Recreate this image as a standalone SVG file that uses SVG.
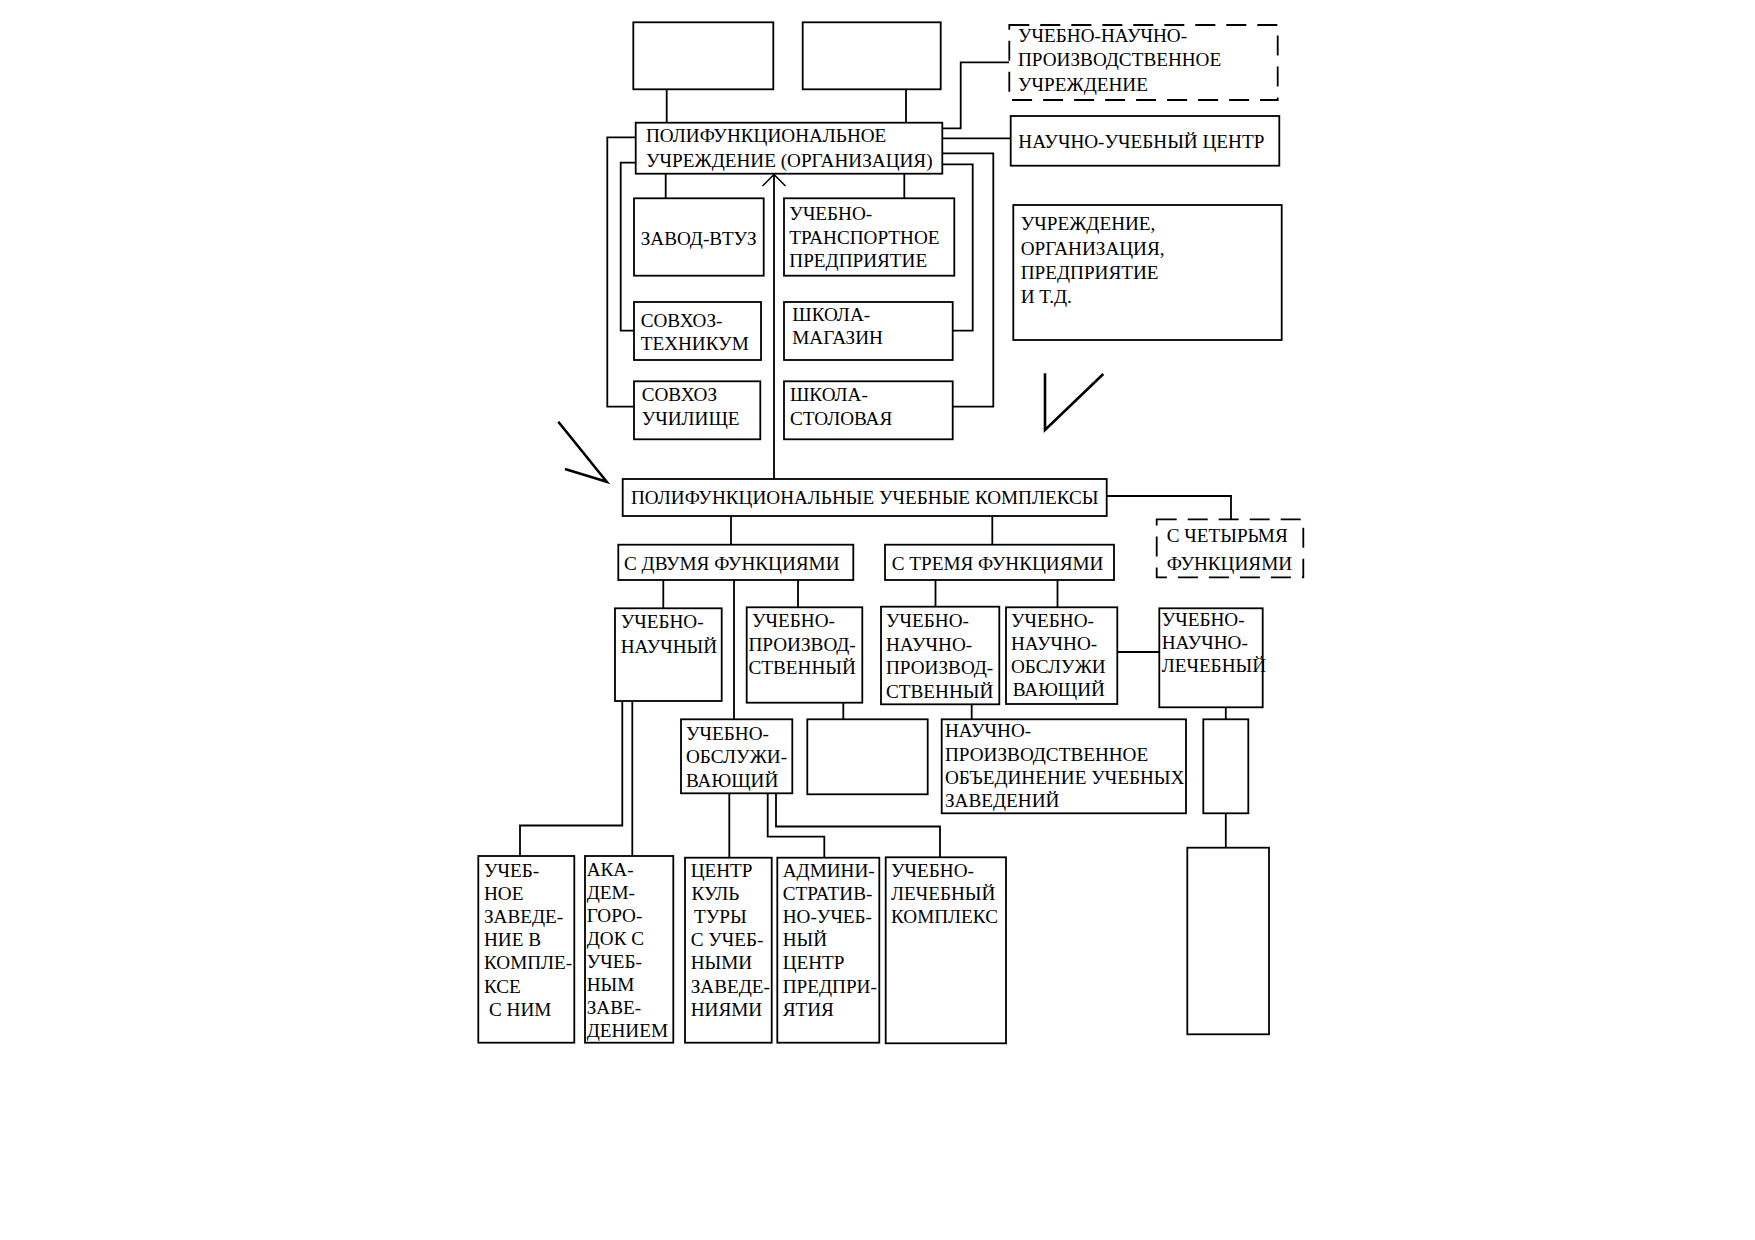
<svg xmlns="http://www.w3.org/2000/svg" width="1755" height="1240" viewBox="0 0 1755 1240">
<style>
.box{fill:#fff;stroke:#000;stroke-width:1.8}
.dash{stroke-dasharray:20 11}
.c{fill:none;stroke:#000;stroke-width:1.8}
.mk{fill:none;stroke:#000;stroke-width:2.6;stroke-linejoin:miter}
.t{font-family:"Liberation Serif","Times New Roman",serif;font-size:19.2px;fill:#000}
</style>
<defs>
<marker id="arr" viewBox="0 0 24 14" refX="12" refY="1" markerWidth="24" markerHeight="14" markerUnits="userSpaceOnUse" orient="0">
<path d="M0.5,12.5 L12,1 L23.5,12.5" fill="none" stroke="#000" stroke-width="1.5"/>
</marker>
</defs>
<rect width="1755" height="1240" fill="#fff"/>
<g id="connectors">
<path class="c" d="M666.7,89.3V122.7"/>
<path class="c" d="M906,89.3V122.7"/>
<path class="c" d="M942.3,128.3H960.7V62.3H1009.3"/>
<path class="c" d="M942.3,138.3H1010.7"/>
<path class="c" d="M942.3,153.3H993.3V406.7H952.7"/>
<path class="c" d="M942.3,164.3H972.7V330.7H952.7"/>
<path class="c" d="M635.7,137.3H607.3V406.7H634"/>
<path class="c" d="M635.7,162.7H620.7V330.7H634"/>
<path class="c" d="M665.7,173.7V198.3"/>
<path class="c" d="M904.3,173.7V198.3"/>
<path class="c" d="M774,479V174.5" marker-end="url(#arr)"/>
<path class="c" d="M731,516V544.7"/>
<path class="c" d="M992.3,516V544.7"/>
<path class="c" d="M1106.7,496H1231V519.3"/>
<path class="c" d="M663.3,580V608.3"/>
<path class="c" d="M734,580V719.3"/>
<path class="c" d="M798,580V607.3"/>
<path class="c" d="M935.5,580V606.7"/>
<path class="c" d="M1057.5,580V607.3"/>
<path class="c" d="M1117.3,652H1159.3"/>
<path class="c" d="M1225.8,707.3V719.3"/>
<path class="c" d="M1225.8,813.3V847.7"/>
<path class="c" d="M843.3,702.7V719.3"/>
<path class="c" d="M971.7,704.3V719.3"/>
<path class="c" d="M622.3,701V825.5H520V856"/>
<path class="c" d="M632.3,701V856"/>
<path class="c" d="M729.3,793.3V857.7"/>
<path class="c" d="M767.7,793.3V836.7H824.3V857.7"/>
<path class="c" d="M776,793.3V826.5H940V857.3"/>
</g>
<g id="marks">
<path class="mk" d="M558.3,421.7L606.7,481.7L565,469"/>
<path class="mk" d="M1045,373.3V430L1103.3,374"/>
</g>
<g id="top-empty-1"><rect class="box" x="633.3" y="22.3" width="140" height="67"/></g>
<g id="top-empty-2"><rect class="box" x="802.7" y="22.3" width="138" height="67"/></g>
<g id="polyfunctional-institution">
<rect class="box" x="635.7" y="122.7" width="306.6" height="51"/>
<text class="t" x="646" y="141.7">ПОЛИФУНКЦИОНАЛЬНОЕ</text>
<text class="t" x="646" y="166.7">УЧРЕЖДЕНИЕ (ОРГАНИЗАЦИЯ)</text>
</g>
<g id="edu-sci-prod-institution">
<rect class="box dash" x="1009.3" y="25" width="268.4" height="75"/>
<text class="t" x="1018" y="41.7">УЧЕБНО-НАУЧНО-</text>
<text class="t" x="1018" y="66.2">ПРОИЗВОДСТВЕННОЕ</text>
<text class="t" x="1018" y="90.7">УЧРЕЖДЕНИЕ</text>
</g>
<g id="sci-edu-center">
<rect class="box" x="1010.7" y="116" width="268.6" height="49.7"/>
<text class="t" x="1018.3" y="148.3">НАУЧНО-УЧЕБНЫЙ ЦЕНТР</text>
</g>
<g id="legend-box">
<rect class="box" x="1013.3" y="205" width="268.4" height="135"/>
<text class="t" x="1020.7" y="230">УЧРЕЖДЕНИЕ,</text>
<text class="t" x="1020.7" y="254.5">ОРГАНИЗАЦИЯ,</text>
<text class="t" x="1020.7" y="279">ПРЕДПРИЯТИЕ</text>
<text class="t" x="1020.7" y="303.3">И Т.Д.</text>
</g>
<g id="zavod-vtuz">
<rect class="box" x="634" y="198.3" width="129.7" height="77.4"/>
<text class="t" x="640.7" y="245">ЗАВОД-ВТУЗ</text>
</g>
<g id="edu-transport">
<rect class="box" x="784" y="198.3" width="170.3" height="77.4"/>
<text class="t" x="789.3" y="220">УЧЕБНО-</text>
<text class="t" x="789.3" y="243.5">ТРАНСПОРТНОЕ</text>
<text class="t" x="789.3" y="267">ПРЕДПРИЯТИЕ</text>
</g>
<g id="sovkhoz-tekhnikum">
<rect class="box" x="634" y="302" width="127" height="58"/>
<text class="t" x="640.7" y="326.6">СОВХОЗ-</text>
<text class="t" x="640.7" y="350.4">ТЕХНИКУМ</text>
</g>
<g id="shkola-magazin">
<rect class="box" x="784" y="302" width="168.7" height="58"/>
<text class="t" x="792.3" y="321">ШКОЛА-</text>
<text class="t" x="792.3" y="343.5">МАГАЗИН</text>
</g>
<g id="sovkhoz-uchilishche">
<rect class="box" x="634" y="381.3" width="126.3" height="58"/>
<text class="t" x="641.7" y="401">СОВХОЗ</text>
<text class="t" x="641.7" y="424.5">УЧИЛИЩЕ</text>
</g>
<g id="shkola-stolovaya">
<rect class="box" x="784" y="381.3" width="168.7" height="58"/>
<text class="t" x="790" y="401">ШКОЛА-</text>
<text class="t" x="790" y="424.5">СТОЛОВАЯ</text>
</g>
<g id="polyfunctional-complexes">
<rect class="box" x="622.7" y="479" width="484" height="37"/>
<text class="t" x="631" y="504.3">ПОЛИФУНКЦИОНАЛЬНЫЕ УЧЕБНЫЕ КОМПЛЕКСЫ</text>
</g>
<g id="two-functions">
<rect class="box" x="618.3" y="544.7" width="235" height="35.3"/>
<text class="t" x="624" y="570">С ДВУМЯ ФУНКЦИЯМИ</text>
</g>
<g id="three-functions">
<rect class="box" x="885" y="544.7" width="229" height="35.3"/>
<text class="t" x="891.7" y="570">С ТРЕМЯ ФУНКЦИЯМИ</text>
</g>
<g id="four-functions">
<rect class="box dash" x="1156.7" y="519.3" width="146.6" height="58"/>
<text class="t" x="1166.7" y="541.5">С ЧЕТЫРЬМЯ</text>
<text class="t" x="1166.7" y="570">ФУНКЦИЯМИ</text>
</g>
<g id="edu-sci">
<rect class="box" x="615" y="608.3" width="106.7" height="92.7"/>
<text class="t" x="620.7" y="628">УЧЕБНО-</text>
<text class="t" x="620.7" y="653">НАУЧНЫЙ</text>
</g>
<g id="edu-prod">
<rect class="box" x="746.7" y="607.3" width="115.6" height="95.4"/>
<text class="t" x="752" y="627">УЧЕБНО-</text>
<text class="t" x="748.5" y="650.5">ПРОИЗВОД-</text>
<text class="t" x="748.5" y="674">СТВЕННЫЙ</text>
</g>
<g id="edu-sci-prod">
<rect class="box" x="881" y="606.7" width="118.3" height="97.6"/>
<text class="t" x="886" y="627">УЧЕБНО-</text>
<text class="t" x="886" y="650.5">НАУЧНО-</text>
<text class="t" x="886" y="674">ПРОИЗВОД-</text>
<text class="t" x="886" y="697.5">СТВЕННЫЙ</text>
</g>
<g id="edu-sci-service">
<rect class="box" x="1006" y="607.3" width="111.3" height="96.7"/>
<text class="t" x="1011" y="627">УЧЕБНО-</text>
<text class="t" x="1011" y="650">НАУЧНО-</text>
<text class="t" x="1011" y="673">ОБСЛУЖИ</text>
<text class="t" x="1012.7" y="696">ВАЮЩИЙ</text>
</g>
<g id="edu-sci-medical">
<rect class="box" x="1159.3" y="608.3" width="103.4" height="99"/>
<text class="t" x="1161.7" y="626">УЧЕБНО-</text>
<text class="t" x="1161.7" y="649">НАУЧНО-</text>
<text class="t" x="1161.7" y="672">ЛЕЧЕБНЫЙ</text>
</g>
<g id="edu-service">
<rect class="box" x="681" y="719.3" width="111.3" height="74"/>
<text class="t" x="686" y="740">УЧЕБНО-</text>
<text class="t" x="686" y="763">ОБСЛУЖИ-</text>
<text class="t" x="686" y="786.5">ВАЮЩИЙ</text>
</g>
<g id="empty-mid"><rect class="box" x="807.3" y="719.3" width="120.4" height="75"/></g>
<g id="sci-prod-union">
<rect class="box" x="941.7" y="719.3" width="244.3" height="94"/>
<text class="t" x="945" y="737">НАУЧНО-</text>
<text class="t" x="945" y="760.5">ПРОИЗВОДСТВЕННОЕ</text>
<text class="t" x="945" y="784">ОБЪЕДИНЕНИЕ УЧЕБНЫХ</text>
<text class="t" x="945" y="807">ЗАВЕДЕНИЙ</text>
</g>
<g id="empty-small"><rect class="box" x="1203.3" y="719.3" width="45" height="94"/></g>
<g id="empty-tall"><rect class="box" x="1187.3" y="847.7" width="81.7" height="186.6"/></g>
<g id="school-in-complex">
<rect class="box" x="478.3" y="856" width="96" height="186.7"/>
<text class="t" x="484" y="877">УЧЕБ-</text>
<text class="t" x="484" y="900.1">НОЕ</text>
<text class="t" x="484" y="923.2">ЗАВЕДЕ-</text>
<text class="t" x="484" y="946.3">НИЕ В</text>
<text class="t" x="484" y="969.4">КОМПЛЕ-</text>
<text class="t" x="484" y="992.5">КСЕ</text>
<text class="t" x="489" y="1015.6">С НИМ</text>
</g>
<g id="academgorodok">
<rect class="box" x="585" y="856" width="88.3" height="186.7"/>
<text class="t" x="586.7" y="875.5">АКА-</text>
<text class="t" x="586.7" y="898.6">ДЕМ-</text>
<text class="t" x="586.7" y="921.7">ГОРО-</text>
<text class="t" x="586.7" y="944.8">ДОК С</text>
<text class="t" x="586.7" y="967.9">УЧЕБ-</text>
<text class="t" x="586.7" y="991">НЫМ</text>
<text class="t" x="586.7" y="1014.1">ЗАВЕ-</text>
<text class="t" x="586.7" y="1037.2">ДЕНИЕМ</text>
</g>
<g id="culture-center">
<rect class="box" x="685" y="857.7" width="86.7" height="185"/>
<text class="t" x="690.7" y="877">ЦЕНТР</text>
<text class="t" x="691.5" y="900.1">КУЛЬ</text>
<text class="t" x="694" y="923.2">ТУРЫ</text>
<text class="t" x="690.7" y="946.3">С УЧЕБ-</text>
<text class="t" x="690.7" y="969.4">НЫМИ</text>
<text class="t" x="690.7" y="992.5">ЗАВЕДЕ-</text>
<text class="t" x="690.7" y="1015.6">НИЯМИ</text>
</g>
<g id="admin-edu-center">
<rect class="box" x="777.3" y="857.7" width="102" height="185"/>
<text class="t" x="782.7" y="877">АДМИНИ-</text>
<text class="t" x="782.7" y="900.1">СТРАТИВ-</text>
<text class="t" x="782.7" y="923.2">НО-УЧЕБ-</text>
<text class="t" x="782.7" y="946.3">НЫЙ</text>
<text class="t" x="782.7" y="969.4">ЦЕНТР</text>
<text class="t" x="782.7" y="992.5">ПРЕДПРИ-</text>
<text class="t" x="782.7" y="1015.6">ЯТИЯ</text>
</g>
<g id="edu-medical-complex">
<rect class="box" x="885.7" y="857.3" width="120.3" height="186"/>
<text class="t" x="891" y="877">УЧЕБНО-</text>
<text class="t" x="891" y="900">ЛЕЧЕБНЫЙ</text>
<text class="t" x="891" y="923">КОМПЛЕКС</text>
</g>
</svg>
